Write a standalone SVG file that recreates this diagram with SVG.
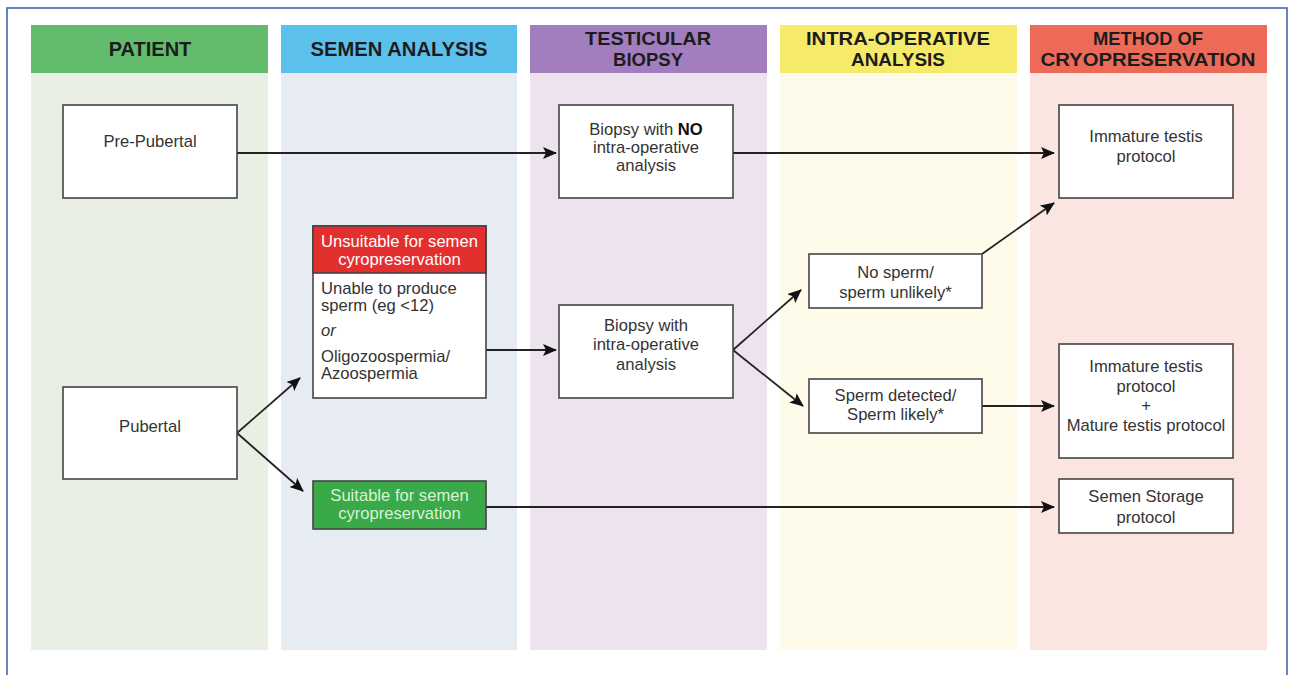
<svg xmlns="http://www.w3.org/2000/svg" width="1289" height="675" viewBox="0 0 1289 675">
<defs>
<style>
.hd{font-family:"Liberation Sans",Arial,sans-serif;font-weight:bold;font-size:20px;fill:#1c1c1c;text-anchor:middle}
.hd2{font-family:"Liberation Sans",Arial,sans-serif;font-weight:bold;font-size:18.4px;fill:#1c1c1c;text-anchor:middle}
.tx{font-family:"Liberation Sans",Arial,sans-serif;font-size:16.6px;fill:#333;text-anchor:middle}
.txl{font-family:"Liberation Sans",Arial,sans-serif;font-size:16.6px;fill:#333}
.box{fill:#fff;stroke:#444;stroke-width:1.6}
.cn{stroke:#222;stroke-width:1.8;fill:none;marker-end:url(#ah)}
</style>
<marker id="ah" viewBox="0 0 14 12" refX="13" refY="6" markerWidth="14" markerHeight="12" markerUnits="userSpaceOnUse" orient="auto">
<path d="M0,0 L14,6 L0,12 L3,6 Z" fill="#111"/>
</marker>
</defs>
<rect x="0" y="0" width="1289" height="675" fill="#fff"/>
<rect x="7" y="8" width="1280" height="700" fill="none" stroke="#3c6aa6" stroke-width="1.6"/>

<g id="lanes">
<rect x="31" y="73" width="237" height="577" fill="#e9efe2"/>
<rect x="31" y="25" width="237" height="48" fill="#63bb6c"/>
<rect x="281" y="73" width="236" height="577" fill="#e6ecf1"/>
<rect x="281" y="25" width="236" height="48" fill="#5cc0ec"/>
<rect x="530" y="73" width="237" height="577" fill="#ede3ef"/>
<rect x="530" y="25" width="237" height="48" fill="#a27ebf"/>
<rect x="780" y="73" width="237" height="577" fill="#fefbea"/>
<rect x="780" y="25" width="237" height="48" fill="#f6ea6b"/>
<rect x="1030" y="73" width="237" height="577" fill="#fbe5e1"/>
<rect x="1030" y="25" width="237" height="48" fill="#ee6a58"/>
<text class="hd" x="150" y="56">PATIENT</text>
<text class="hd" x="399" y="56" textLength="177" lengthAdjust="spacingAndGlyphs">SEMEN ANALYSIS</text>
<text class="hd2" x="648" y="44.5" textLength="126" lengthAdjust="spacingAndGlyphs">TESTICULAR</text>
<text class="hd2" x="648" y="65.5" textLength="70" lengthAdjust="spacingAndGlyphs">BIOPSY</text>
<text class="hd2" x="898" y="44.5" textLength="184" lengthAdjust="spacingAndGlyphs">INTRA-OPERATIVE</text>
<text class="hd2" x="898" y="65.5" textLength="94" lengthAdjust="spacingAndGlyphs">ANALYSIS</text>
<text class="hd2" x="1148" y="44.5" textLength="110" lengthAdjust="spacingAndGlyphs">METHOD OF</text>
<text class="hd2" x="1148" y="65.5" textLength="215" lengthAdjust="spacingAndGlyphs">CRYOPRESERVATION</text>
</g>

<g id="connectors">
<line class="cn" x1="237" y1="153" x2="556" y2="153"/>
<line class="cn" x1="733" y1="153" x2="1054" y2="153"/>
<line class="cn" x1="237" y1="433" x2="300" y2="378"/>
<line class="cn" x1="237" y1="433" x2="303" y2="491"/>
<line class="cn" x1="486" y1="350" x2="556" y2="350"/>
<line class="cn" x1="733" y1="350" x2="801" y2="290"/>
<line class="cn" x1="733" y1="350" x2="803" y2="406"/>
<line class="cn" x1="982" y1="254" x2="1054" y2="203"/>
<line class="cn" x1="982" y1="406" x2="1054" y2="406"/>
<line class="cn" x1="486" y1="507" x2="1054" y2="507"/>
</g>

<g id="pre-pubertal">
<rect class="box" x="63" y="105" width="174" height="93"/>
<text class="tx" x="150" y="147">Pre-Pubertal</text>
</g>
<g id="pubertal">
<rect class="box" x="63" y="387" width="174" height="92"/>
<text class="tx" x="150" y="432">Pubertal</text>
</g>
<g id="unsuitable">
<rect class="box" x="313" y="226" width="173" height="172"/>
<rect x="313" y="226" width="173" height="47" fill="#e3302f" stroke="#444" stroke-width="1.6"/>
<text class="tx" x="399.5" y="247" style="fill:#fff">Unsuitable for semen</text>
<text class="tx" x="399.5" y="265" style="fill:#fff">cyropreservation</text>
<text class="txl" x="321" y="294">Unable to produce</text>
<text class="txl" x="321" y="311">sperm (eg &lt;12)</text>
<text class="txl" x="321" y="336" font-style="italic">or</text>
<text class="txl" x="321" y="362">Oligozoospermia/</text>
<text class="txl" x="321" y="379">Azoospermia</text>
</g>
<g id="suitable">
<rect x="313" y="481" width="173" height="48" fill="#3aa948" stroke="#444" stroke-width="1.6"/>
<text class="tx" x="399.5" y="501" style="fill:#d9f2d6">Suitable for semen</text>
<text class="tx" x="399.5" y="519" style="fill:#d9f2d6">cyropreservation</text>
</g>
<g id="biopsy-no">
<rect class="box" x="559" y="105" width="174" height="93"/>
<text class="tx" x="646" y="135">Biopsy with <tspan font-weight="bold" fill="#111">NO</tspan></text>
<text class="tx" x="646" y="153">intra-operative</text>
<text class="tx" x="646" y="171">analysis</text>
</g>
<g id="biopsy-intra">
<rect class="box" x="559" y="305" width="174" height="93"/>
<text class="tx" x="646" y="331">Biopsy with</text>
<text class="tx" x="646" y="350">intra-operative</text>
<text class="tx" x="646" y="370">analysis</text>
</g>
<g id="no-sperm">
<rect class="box" x="809" y="254" width="173" height="54"/>
<text class="tx" x="895.5" y="278">No sperm/</text>
<text class="tx" x="895.5" y="298">sperm unlikely*</text>
</g>
<g id="sperm-detected">
<rect class="box" x="809" y="379" width="173" height="54"/>
<text class="tx" x="895.5" y="401">Sperm detected/</text>
<text class="tx" x="895.5" y="420">Sperm likely*</text>
</g>
<g id="immature">
<rect class="box" x="1059" y="105" width="174" height="93"/>
<text class="tx" x="1146" y="142">Immature testis</text>
<text class="tx" x="1146" y="162">protocol</text>
</g>
<g id="immature-mature">
<rect class="box" x="1059" y="344" width="174" height="114"/>
<text class="tx" x="1146" y="372">Immature testis</text>
<text class="tx" x="1146" y="392">protocol</text>
<text class="tx" x="1146" y="411">+</text>
<text class="tx" x="1146" y="431">Mature testis protocol</text>
</g>
<g id="semen-storage">
<rect class="box" x="1059" y="479" width="174" height="54"/>
<text class="tx" x="1146" y="502">Semen Storage</text>
<text class="tx" x="1146" y="523">protocol</text>
</g>
</svg>
